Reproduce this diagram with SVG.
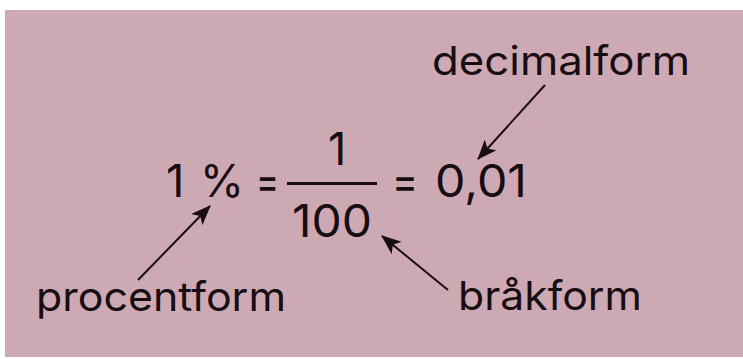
<svg xmlns="http://www.w3.org/2000/svg" width="743" height="359" viewBox="0 0 743 359">
  <style>
    .lbl { font-family: Inter, "Open Sans", "Liberation Sans", sans-serif; font-size: 40px; fill: #170d12; }
    .math { font-family: Inter, "Open Sans", "Liberation Sans", sans-serif; font-size: 45px; fill: #170d12; }
    .conn { stroke: #170d12; stroke-width: 2; fill: none; }
  </style>
  <defs>
    <marker id="ah" viewBox="0 0 20 16" refX="19" refY="8" markerWidth="20" markerHeight="16" markerUnits="userSpaceOnUse" orient="auto">
      <path d="M0,0 L20,8 L0,16 L5,8 Z" fill="#170d12"/>
    </marker>
  </defs>
  <rect x="0" y="0" width="743" height="359" fill="#ffffff"/>
  <rect x="5" y="10" width="738" height="347" fill="#cdaab3"/>

  <g id="equation">
    <text class="math" x="166" y="197">1</text>
    <text class="math" x="200" y="197" textLength="44" lengthAdjust="spacingAndGlyphs">%</text>
    <text class="math" x="256" y="197" textLength="23" lengthAdjust="spacingAndGlyphs">=</text>
    <text class="math" x="328" y="165">1</text>
    <rect x="287" y="182" width="90" height="3" fill="#170d12"/>
    <text class="math" x="292" y="237" textLength="80" lengthAdjust="spacingAndGlyphs">100</text>
    <text class="math" x="392" y="197" textLength="26" lengthAdjust="spacingAndGlyphs">=</text>
    <text class="math" x="435" y="197" textLength="92" lengthAdjust="spacingAndGlyphs">0,01</text>
  </g>

  <g id="decimalform">
    <text class="lbl" x="432" y="75" textLength="258" lengthAdjust="spacingAndGlyphs">decimalform</text>
  </g>
  <g id="procentform">
    <text class="lbl" x="36" y="311" textLength="250" lengthAdjust="spacingAndGlyphs">procentform</text>
  </g>
  <g id="brakform">
    <text class="lbl" x="458" y="310" textLength="184" lengthAdjust="spacingAndGlyphs">bråkform</text>
  </g>

  <g id="connectors">
    <line class="conn" x1="545" y1="85" x2="478" y2="159" marker-end="url(#ah)"/>
    <line class="conn" x1="138" y1="280" x2="210" y2="206" marker-end="url(#ah)"/>
    <line class="conn" x1="448" y1="290" x2="382" y2="236" marker-end="url(#ah)"/>
  </g>
</svg>
